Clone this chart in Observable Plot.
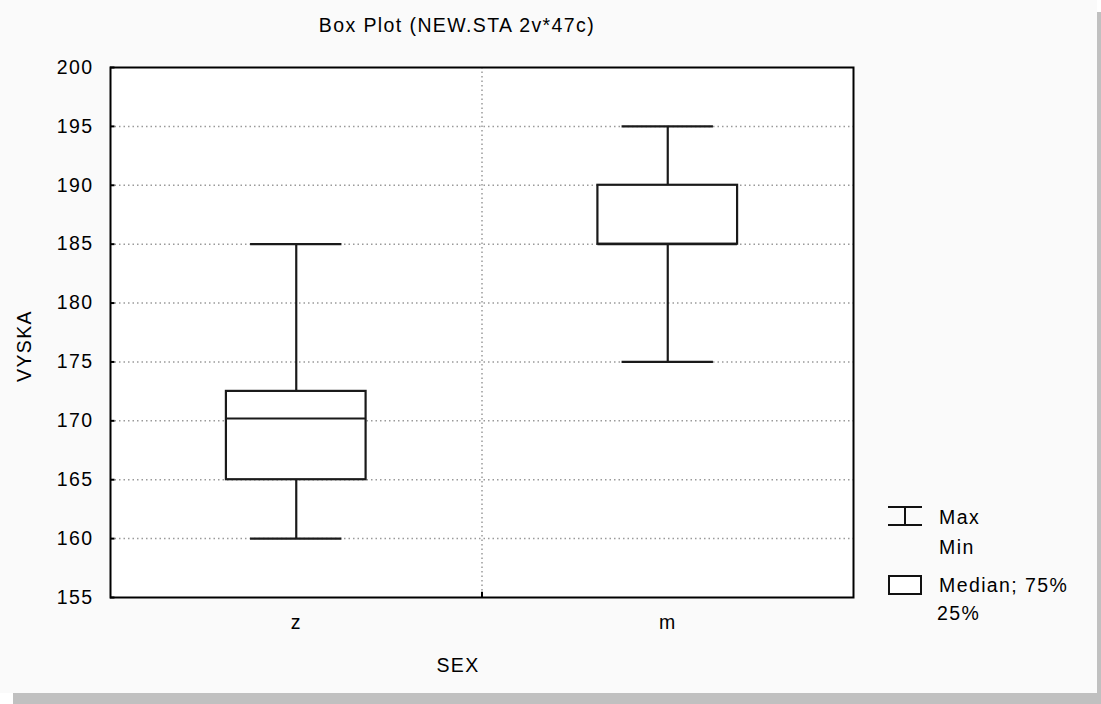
<!DOCTYPE html>
<html><head><meta charset="utf-8">
<script src="https://cdn.jsdelivr.net/npm/d3@7"></script>
<script src="https://cdn.jsdelivr.net/npm/@observablehq/plot@0.6"></script>
<style>
body{margin:0;background:#fff;font-family:"Liberation Sans",Arial,sans-serif;}
#wrap{position:relative;width:1101px;height:704px;overflow:hidden;}
#shadow{position:absolute;left:13px;top:12px;width:1088px;height:692px;background:#c0c0c0;}
#panel{position:absolute;left:0;top:0;width:1097px;height:693px;background:#fafafa;}
#chart{position:absolute;left:0;top:0;}
#overlay{position:absolute;left:0;top:0;}
#overlay text{font-family:"Liberation Sans",Arial,sans-serif;font-size:19.5px;letter-spacing:1.4px;fill:#000;}
</style></head><body>
<div id="wrap">
<div id="shadow"></div><div id="panel"></div><div id="chart"></div>
<svg id="overlay" width="1101" height="704">
  <text x="457" y="32" text-anchor="middle">Box Plot (NEW.STA 2v*47c)</text>
  <text x="458" y="672" text-anchor="middle">SEX</text>
  <text transform="translate(31,346) rotate(-90)" text-anchor="middle">VYSKA</text>
  <g stroke="#111" stroke-width="2" fill="none">
    <line x1="888" x2="922" y1="507" y2="507"/>
    <line x1="888" x2="922" y1="525" y2="525"/>
    <line x1="905" x2="905" y1="507" y2="525"/>
    <rect x="889" y="576" width="32" height="18" fill="#fff"/>
  </g>
  <text x="939" y="524">Max</text>
  <text x="939" y="554">Min</text>
  <text x="939" y="592">Median; 75%</text>
  <text x="937" y="620">25%</text>
</svg>
</div>
<script>
const categories = ["z", "m"];
const mins = [160, 175];
const q1s = [165, 185];
const medians = [170.2, 185];
const q3s = [172.5, 190];
const maxs = [185, 195];
const yTicks = [155, 160, 165, 170, 175, 180, 185, 190, 195, 200];

const data = categories.map((c, i) => ({
  cat: c, pos: i + 0.5, min: mins[i], q1: q1s[i], median: medians[i], q3: q3s[i], max: maxs[i]
}));
const boundaries = d3.range(1, categories.length);
const half = 0.188, cap = 0.123;
const yLo = yTicks[0], yHi = yTicks[yTicks.length - 1];
const lineColor = "#1a1a1a";

const chart = Plot.plot({
  width: 1101, height: 704,
  marginLeft: 110, marginRight: 248, marginTop: 67, marginBottom: 107,
  style: {background: "transparent", fontFamily: "Liberation Sans, Arial, sans-serif", fontSize: "19.5px", letterSpacing: "1.4px", color: "#000"},
  x: {domain: [0, categories.length], label: null},
  y: {domain: [yLo, yHi], label: null},
  marks: [
    Plot.frame({fill: "white", stroke: null}),
    Plot.ruleY(yTicks.filter(t => t > yLo && t < yHi), {stroke: "#9a9a9a", strokeWidth: 1.5, strokeDasharray: "1.5,3"}),
    Plot.ruleX(boundaries, {stroke: "#9a9a9a", strokeWidth: 1.5, strokeDasharray: "1.5,3"}),
    Plot.ruleX(boundaries, {y1: yLo, y2: yLo + 0.45, stroke: "#000", strokeWidth: 2}),
    Plot.ruleY(yTicks, {x1: 0, x2: 0.012, stroke: "#000", strokeWidth: 2}),
    Plot.ruleX(data, {x: "pos", y1: "min", y2: "q1", stroke: lineColor, strokeWidth: 2.2}),
    Plot.ruleX(data, {x: "pos", y1: "q3", y2: "max", stroke: lineColor, strokeWidth: 2.2}),
    Plot.ruleY(data, {y: "min", x1: d => d.pos - cap, x2: d => d.pos + cap, stroke: lineColor, strokeWidth: 2.2}),
    Plot.ruleY(data, {y: "max", x1: d => d.pos - cap, x2: d => d.pos + cap, stroke: lineColor, strokeWidth: 2.2}),
    Plot.rect(data, {x1: d => d.pos - half, x2: d => d.pos + half, y1: "q1", y2: "q3", fill: "white", stroke: lineColor, strokeWidth: 2.2}),
    Plot.ruleY(data, {y: "median", x1: d => d.pos - half, x2: d => d.pos + half, stroke: lineColor, strokeWidth: 2.2}),
    Plot.frame({stroke: "#000", strokeWidth: 2}),
    Plot.axisY({ticks: yTicks, tickSize: 0, tickPadding: 17, tickFormat: d => String(d)}),
    Plot.axisX({ticks: data.map(d => d.pos), tickSize: 0, tickPadding: 18, tickFormat: d => categories[Math.floor(d)]})
  ]
});
document.getElementById("chart").appendChild(chart);
</script>
</body></html>
